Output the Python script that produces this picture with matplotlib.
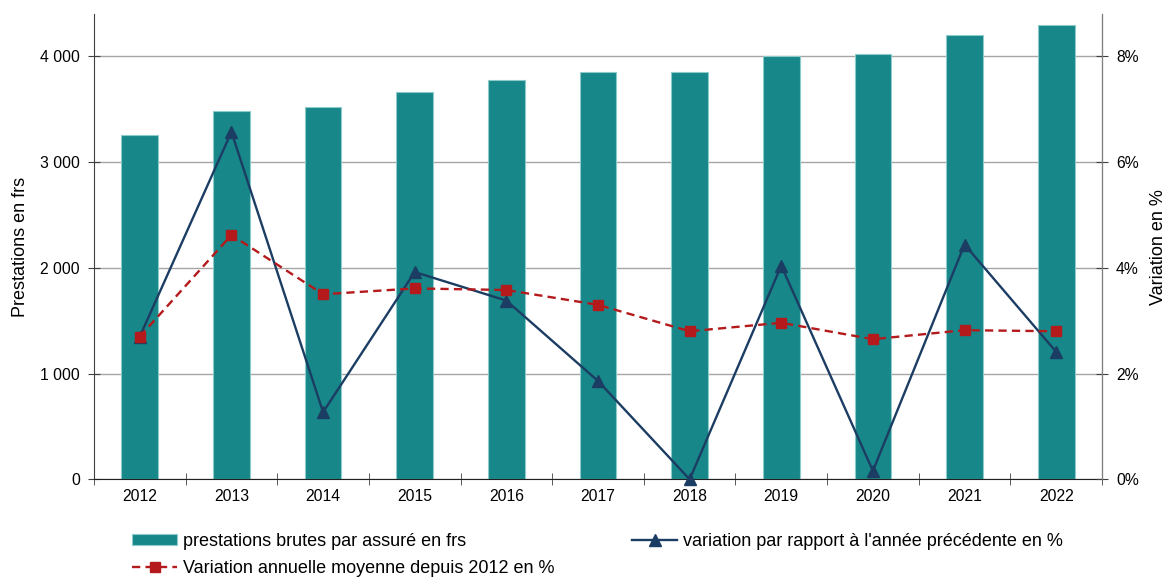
import matplotlib
matplotlib.use("Agg")
import matplotlib.pyplot as plt
from matplotlib.ticker import FuncFormatter
import numpy as np

# *** Data ***#
years = ["2012", "2013", "2014", "2015", "2016", "2017", "2018", "2019", "2020", "2021", "2022"]
prestations = [3259, 3480, 3518, 3660, 3773, 3852, 3852, 4006, 4019, 4199, 4299]
variation_annee = [2.70, 6.57, 1.27, 3.92, 3.38, 1.86, 0.00, 4.04, 0.16, 4.44, 2.41]
variation_moyenne = [2.70, 4.62, 3.50, 3.61, 3.58, 3.30, 2.80, 2.96, 2.65, 2.82, 2.80]

teal = "#178789"
navy = "#1C3D63"
red = "#B41A1C"

plt.rcParams["font.family"] = ["Liberation Sans", "DejaVu Sans"]
plt.rcParams["font.size"] = 11.3

fig = plt.figure(figsize=(11.69, 5.79), dpi=100)
ax = fig.add_axes([94 / 1169, 1 - 479.3 / 579, (1102 - 94) / 1169, (479.3 - 14) / 579])
ax2 = ax.twinx()

x = np.arange(len(years))

# bars on the left axis
bars = ax.bar(x, prestations, width=0.40, color=teal, edgecolor="#8FCACA",
              linewidth=0.8, zorder=2, label="prestations brutes par assuré en frs")
ax.set_ylim(0, 4400)
ax.set_yticks([0, 1000, 2000, 3000, 4000])
ax.yaxis.set_major_formatter(FuncFormatter(lambda v, p: f"{int(v):,}".replace(",", " ")))
ax.grid(axis="y", color="#A6A6A6", linewidth=1.0, zorder=0)
ax.set_axisbelow(True)
ax.set_xlim(-0.5, len(years) - 0.5)

# category labels in the middle, tick marks between categories
ax.set_xticks(x)
ax.set_xticklabels(years)
ax.tick_params(axis="x", which="major", length=0, pad=7)
ax.set_xticks(np.arange(-0.5, len(years), 1.0), minor=True)
ax.tick_params(axis="x", which="minor", length=8, direction="inout", color="#404040")
ax.tick_params(axis="y", length=8, direction="inout", color="#404040", pad=6)
ax.set_ylabel("Prestations en frs", fontsize=13, labelpad=8)

# lines on the right axis
ln1, = ax2.plot(x, variation_annee, color=navy, linewidth=1.7, marker="^",
                markersize=8.5, zorder=3, clip_on=False,
                label="variation par rapport à l'année précédente en %")
ln2, = ax2.plot(x, variation_moyenne, color=red, linewidth=1.7, linestyle=(0, (3.5, 2.2)),
                marker="s", markersize=7.5, zorder=4,
                label="Variation annuelle moyenne depuis 2012 en %")
ax2.set_ylim(0, 8.8)
ax2.set_yticks([0, 2, 4, 6, 8])
ax2.yaxis.set_major_formatter(FuncFormatter(lambda v, p: f"{int(v)}%"))
ax2.tick_params(axis="y", length=8, direction="inout", color="#404040", pad=6)
ax2.set_ylabel("Variation en %", fontsize=13, labelpad=8)

for a in (ax, ax2):
    a.spines["top"].set_visible(False)
ax.spines["left"].set_color("#404040")
ax.spines["bottom"].set_color("#202020")
ax2.spines["right"].set_color("#808080")
ax2.spines["left"].set_visible(False)
ax2.spines["bottom"].set_visible(False)

# legend in two columns under the plot
leg_opts = dict(loc="upper left", frameon=False, fontsize=13, handlelength=2.5,
                handleheight=0.6, handletextpad=0.33, borderaxespad=0, borderpad=0)
fig.legend(handles=[bars, ln2], bbox_to_anchor=(132 / 1169, 1 - 533 / 579),
           labelspacing=0.55, **leg_opts)
fig.legend(handles=[ln1], bbox_to_anchor=(632 / 1169, 1 - 533 / 579), **leg_opts)

fig.savefig("out.png", dpi=100)
